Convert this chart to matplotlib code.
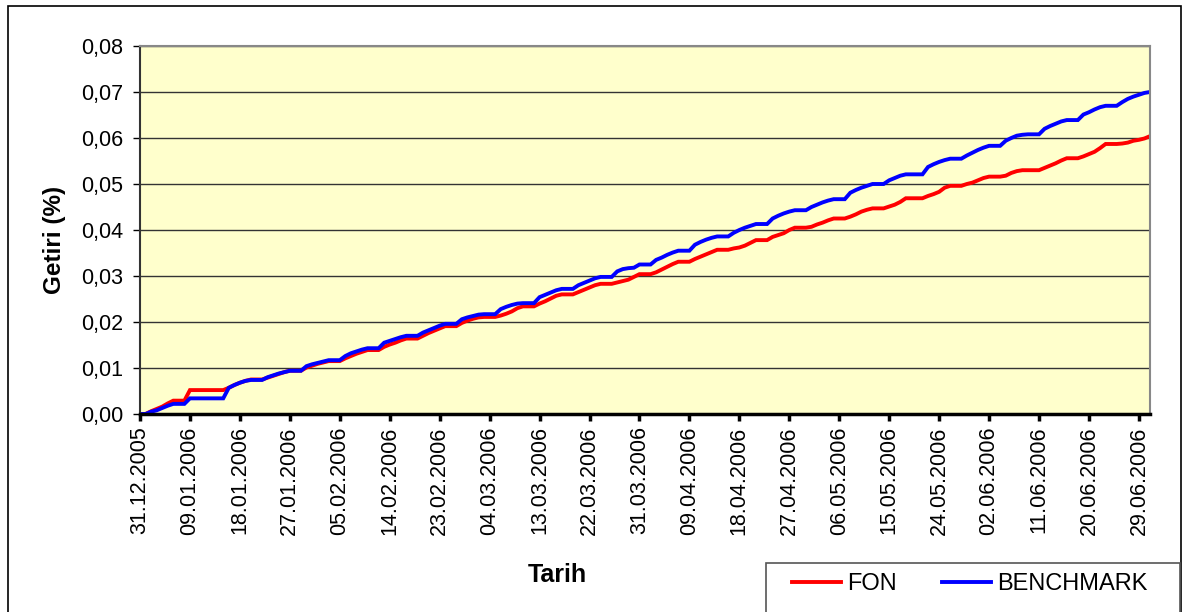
import matplotlib
matplotlib.use("Agg")
import matplotlib.pyplot as plt
import pandas as pd
from matplotlib.patches import Rectangle

plt.rcParams['font.family'] = ['Liberation Sans', 'DejaVu Sans']

dates = pd.date_range("2005-12-31", "2006-07-01", freq="D")

fon = [
    0.0000, 0.0000, 0.0006, 0.0011, 0.0016, 0.0023, 0.0029, 0.0029, 0.0029,
    0.0052, 0.0052, 0.0052, 0.0052, 0.0052, 0.0052, 0.0052,
    0.0057, 0.0063, 0.0068, 0.0072, 0.0075, 0.0075, 0.0075,
    0.0079, 0.0083, 0.0087, 0.0091, 0.0094, 0.0094, 0.0094,
    0.0101, 0.0105, 0.0109, 0.0112, 0.0115, 0.0115, 0.0115,
    0.0121, 0.0126, 0.0131, 0.0135, 0.0139, 0.0139, 0.0139,
    0.0146, 0.0151, 0.0155, 0.0160, 0.0164, 0.0164, 0.0164,
    0.0170, 0.0176, 0.0181, 0.0186, 0.0191, 0.0191, 0.0191,
    0.0198, 0.0203, 0.0207, 0.0210, 0.0211, 0.0211, 0.0211,
    0.0214, 0.0218, 0.0223, 0.0230, 0.0234, 0.0234, 0.0234,
    0.0240, 0.0245, 0.0251, 0.0257, 0.0260, 0.0260, 0.0260,
    0.0265, 0.0270, 0.0275, 0.0280, 0.0283, 0.0283, 0.0283,
    0.0286, 0.0289, 0.0292, 0.0298, 0.0304, 0.0304, 0.0304,
    0.0308, 0.0314, 0.0320, 0.0326, 0.0331, 0.0331, 0.0331,
    0.0337, 0.0342, 0.0347, 0.0352, 0.0357, 0.0357, 0.0357,
    0.0360, 0.0362, 0.0366, 0.0372, 0.0378, 0.0378, 0.0378,
    0.0385, 0.0389, 0.0393, 0.0400, 0.0405, 0.0405, 0.0405,
    0.0407, 0.0412, 0.0416, 0.0421, 0.0425, 0.0425, 0.0425,
    0.0429, 0.0434, 0.0440, 0.0444, 0.0447, 0.0447, 0.0447,
    0.0451, 0.0455, 0.0461, 0.0469, 0.0469, 0.0469, 0.0469,
    0.0474, 0.0478, 0.0483, 0.0492, 0.0496, 0.0496, 0.0496,
    0.0500, 0.0503, 0.0508, 0.0513, 0.0516, 0.0516, 0.0516,
    0.0518, 0.0524, 0.0528, 0.0530, 0.0530, 0.0530, 0.0530,
    0.0535, 0.0540, 0.0545, 0.0551, 0.0556, 0.0556, 0.0556,
    0.0560, 0.0565, 0.0570, 0.0578, 0.0587, 0.0587, 0.0587,
    0.0588, 0.0590, 0.0594, 0.0596, 0.0599, 0.0604,
]

benchmark = [
    0.0000, 0.0000, 0.0005, 0.0008, 0.0013, 0.0018, 0.0022, 0.0022, 0.0022,
    0.0034, 0.0034, 0.0034, 0.0034, 0.0034, 0.0034, 0.0034,
    0.0057, 0.0063, 0.0068, 0.0072, 0.0074, 0.0074, 0.0074,
    0.0080, 0.0084, 0.0088, 0.0091, 0.0094, 0.0094, 0.0094,
    0.0104, 0.0108, 0.0111, 0.0114, 0.0117, 0.0117, 0.0117,
    0.0126, 0.0132, 0.0136, 0.0140, 0.0143, 0.0143, 0.0143,
    0.0155, 0.0159, 0.0163, 0.0167, 0.0170, 0.0170, 0.0170,
    0.0177, 0.0182, 0.0187, 0.0192, 0.0196, 0.0196, 0.0196,
    0.0206, 0.0210, 0.0213, 0.0216, 0.0217, 0.0217, 0.0217,
    0.0228, 0.0233, 0.0237, 0.0240, 0.0241, 0.0241, 0.0241,
    0.0254, 0.0259, 0.0264, 0.0269, 0.0272, 0.0272, 0.0272,
    0.0280, 0.0285, 0.0290, 0.0295, 0.0298, 0.0298, 0.0298,
    0.0310, 0.0315, 0.0317, 0.0318, 0.0325, 0.0325, 0.0325,
    0.0335, 0.0340, 0.0346, 0.0351, 0.0355, 0.0355, 0.0355,
    0.0368, 0.0374, 0.0379, 0.0383, 0.0386, 0.0386, 0.0386,
    0.0394, 0.0400, 0.0405, 0.0409, 0.0413, 0.0413, 0.0413,
    0.0425, 0.0431, 0.0436, 0.0440, 0.0443, 0.0443, 0.0443,
    0.0450, 0.0455, 0.0460, 0.0464, 0.0467, 0.0467, 0.0467,
    0.0481, 0.0487, 0.0492, 0.0496, 0.0500, 0.0500, 0.0500,
    0.0508, 0.0513, 0.0518, 0.0521, 0.0521, 0.0521, 0.0521,
    0.0537, 0.0543, 0.0548, 0.0552, 0.0555, 0.0555, 0.0555,
    0.0562, 0.0568, 0.0574, 0.0579, 0.0583, 0.0583, 0.0583,
    0.0594, 0.0600, 0.0605, 0.0607, 0.0608, 0.0608, 0.0608,
    0.0620, 0.0626, 0.0631, 0.0636, 0.0639, 0.0639, 0.0639,
    0.0651, 0.0656, 0.0662, 0.0667, 0.0670, 0.0670, 0.0670,
    0.0678, 0.0685, 0.0690, 0.0694, 0.0698, 0.0700,
]

y_ticks = [0.00, 0.01, 0.02, 0.03, 0.04, 0.05, 0.06, 0.07, 0.08]
tick_step = 9

W, H = 1184, 612
fig = plt.figure(figsize=(W / 100, H / 100), dpi=100)
fig.patch.set_facecolor("white")
ax = fig.add_axes([140 / W, 1 - 414 / H, (1150 - 140) / W, (414 - 46) / H])
ax.set_facecolor("#FFFFCC")

idx = list(range(len(dates)))
l1, = ax.plot(idx, fon, color="#FF0000", lw=2.8, label="FON", solid_joinstyle="miter")
l2, = ax.plot(idx, benchmark, color="#0000FF", lw=2.8, label="BENCHMARK", solid_joinstyle="miter")

ax.set_xlim(0, len(dates) - 1)
ax.set_ylim(0, 0.08)
ax.set_yticks(y_ticks)
ax.set_yticklabels([f"{v:.2f}".replace(".", ",") for v in y_ticks], fontsize=15.5)
xt = idx[::tick_step]
ax.set_xticks(xt)
ax.set_xticklabels([dates[i].strftime("%d.%m.%Y") for i in xt], rotation=90, fontsize=15.5)
ax.yaxis.grid(True, color="#333333", lw=1)
ax.set_axisbelow(True)

for s in ["top", "right"]:
    ax.spines[s].set_color("#888888")
    ax.spines[s].set_linewidth(1.5)
ax.spines["left"].set_color("#333333")
ax.spines["left"].set_linewidth(1.5)
ax.spines["bottom"].set_color("black")
ax.spines["bottom"].set_linewidth(2.5)
ax.tick_params(axis="y", direction="out", length=5, width=1, pad=7)
ax.tick_params(axis="x", direction="out", length=5, width=2.5, pad=4)

fig.text(55 / W, 1 - 240 / H, "Getiri (%)", rotation=90, ha="center", va="center",
         fontsize=17.5, fontweight="bold")
fig.text(557 / W, 1 - 575 / H, "Tarih", ha="center", va="center",
         fontsize=18, fontweight="bold")

fig.patches.append(Rectangle((8 / W, -0.05), (1181 - 8) / W, 1 - 6 / H + 0.05,
                             transform=fig.transFigure, fill=False, edgecolor="black", lw=1.2))
fig.patches.append(Rectangle((766 / W, -0.05), (1180 - 766) / W, 1 - 563 / H + 0.05,
                             transform=fig.transFigure, fill=False, edgecolor="#555555", lw=1.2))
fig.legend(handles=[l1, l2], loc="center left", bbox_to_anchor=(780 / W, 1 - 584 / H),
           ncol=2, frameon=False, fontsize=17, handlelength=2.1, handletextpad=0.25,
           columnspacing=1.9, borderpad=0)

fig.savefig("out.png", dpi=100)
